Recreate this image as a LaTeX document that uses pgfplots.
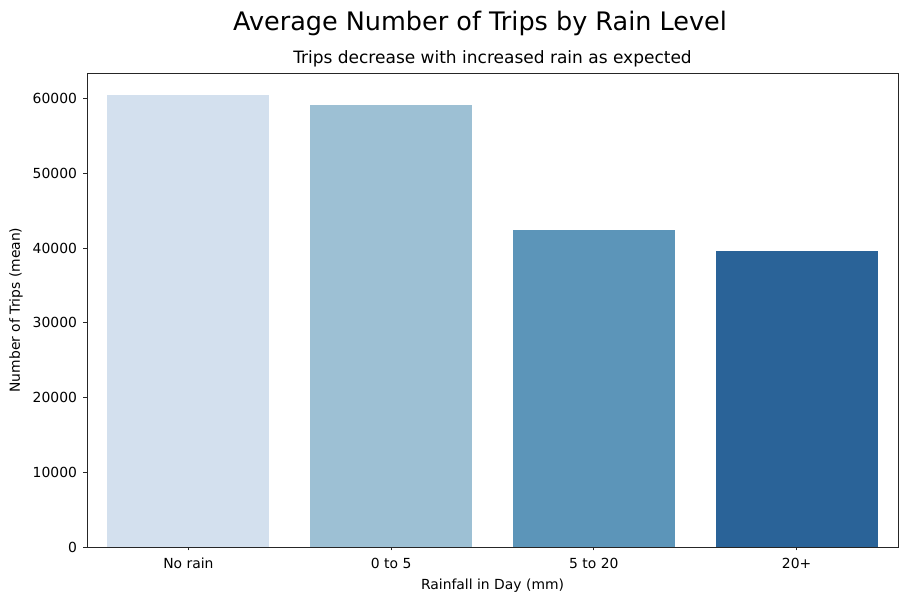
\documentclass[border=0pt]{standalone}
\usepackage{pgfplots}
\pgfplotsset{compat=1.18}
\usepackage{fontspec}
\setmainfont{DejaVu Sans}

\definecolor{rainA}{HTML}{D3E0EE}
\definecolor{rainB}{HTML}{9DC0D4}
\definecolor{rainC}{HTML}{5C95B9}
\definecolor{rainD}{HTML}{2A6398}

\newcommand{\tickfont}{\fontsize{13.9}{16}\selectfont}

\begin{document}
\begin{tikzpicture}
\path[use as bounding box] (-87pt,-55pt) rectangle (821pt,547pt);
\begin{axis}[
    at={(0pt,0pt)}, anchor=south west,
    scale only axis,
    width=811pt, height=474pt,
    ybar, bar width=0.8, bar shift=0pt,
    xmin=-0.5, xmax=3.5,
    ymin=0, ymax=63400,
    xtick={0,1,2,3},
    xticklabels={No rain,0 to 5,5 to 20,20+},
    ytick={0,10000,20000,30000,40000,50000,60000},
    scaled ticks=false,
    yticklabel style={
        /pgf/number format/fixed,
        /pgf/number format/1000 sep={},
        xshift=-3pt
    },
    xticklabel style={yshift=-4pt},
    /pgf/number format/assume math mode=true,
    tick align=outside, tick pos=left,
    major tick length=3.5pt,
    axis line style={black!85, line width=0.8pt},
    every tick/.style={black!85, line width=0.8pt},
    tick label style={font=\tickfont},
    label style={font=\tickfont},
    xlabel={Rainfall in Day (mm)},
    ylabel={Number of Trips (mean)},
    xlabel style={at={(axis description cs:0.5,0)}, anchor=base, yshift=-43pt},
    ylabel style={at={(axis description cs:0,0.5)}, anchor=base, yshift=67pt},
]
\addplot[fill=rainA, draw=none] coordinates {(0,60400)};
\addplot[fill=rainB, draw=none] coordinates {(1,59100)};
\addplot[fill=rainC, draw=none] coordinates {(2,42350)};
\addplot[fill=rainD, draw=none] coordinates {(3,39600)};
\end{axis}
\node[anchor=base, font=\fontsize{25.5}{30}\selectfont] at (393pt,516pt) {Average Number of Trips by Rain Level};
\node[anchor=base, font=\fontsize{17}{20}\selectfont] at (405.5pt,483pt) {Trips decrease with increased rain as expected};
\end{tikzpicture}
\end{document}
